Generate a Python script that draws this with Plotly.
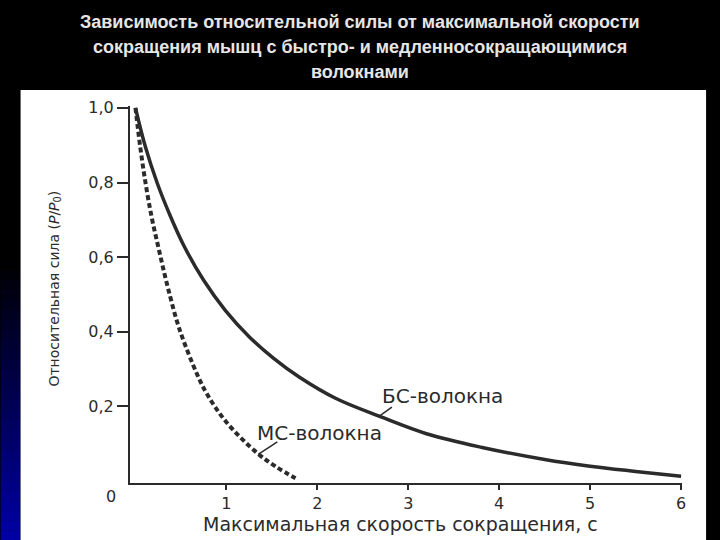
import plotly.graph_objects as go

# ---- data ----
fast_x = [0.0, 0.11, 0.24, 0.37, 0.53, 0.75, 0.99, 1.25, 1.52, 1.8, 2.2, 2.7, 3.2, 3.8, 4.5, 5.0, 5.5, 6.0]
fast_y = [1.0, 0.895, 0.798, 0.718, 0.632, 0.538, 0.457, 0.387, 0.329, 0.279, 0.222, 0.172, 0.127, 0.091, 0.058, 0.040, 0.026, 0.013]

slow_x = [0.0, 0.05, 0.11, 0.18, 0.26, 0.35, 0.48, 0.68, 0.79, 1.0, 1.34, 1.55, 1.76]
slow_y = [1.0, 0.90, 0.80, 0.705, 0.618, 0.525, 0.41, 0.285, 0.232, 0.158, 0.075, 0.038, 0.008]

x_ticks = [1, 2, 3, 4, 5, 6]
x_ticklabels = ["1", "2", "3", "4", "5", "6"]
y_ticks = [0.2, 0.4, 0.6, 0.8, 1.0]
y_ticklabels = ["0,2", "0,4", "0,6", "0,8", "1,0"]

title_lines = ["Зависимость относительной силы от максимальной скорости",
               "сокращения мышц с быстро- и медленносокращающимися",
               "волокнами"]
fast_name = "БС-волокна"
slow_name = "МС-волокна"

# ---- layout geometry (pixels) ----
W, H = 720, 540
L, R, T, B = 129.5, 681.9, 106.1, 482.9


def xp(px):
    return (px - L) / (R - L)


def yp(py):
    return (B - py) / (B - T)


INK = "#2b2b2b"
FONT = "DejaVu Sans"

fig = go.Figure()
fig.add_trace(go.Scatter(x=fast_x, y=fast_y, mode="lines", name=fast_name,
                         line=dict(color=INK, width=3.5, shape="spline", smoothing=1.0)))
fig.add_trace(go.Scatter(x=slow_x, y=slow_y, mode="lines", name=slow_name,
                         line=dict(color=INK, width=4, dash="5px,3px", shape="spline", smoothing=1.0)))

shapes = []
# left blue gradient strip
n = 28
y0, y1 = 260, 540
for i in range(n):
    a = y0 + (y1 - y0) * i / n
    b = y0 + (y1 - y0) * (i + 1) / n
    f = (i + 0.5) / n
    col = "rgb(0,0,%d)" % int(165 * f)
    shapes.append(dict(type="rect", xref="paper", yref="paper", layer="below",
                       x0=xp(0), x1=xp(20), y0=yp(b), y1=yp(a),
                       fillcolor=col, line=dict(width=0)))
# white panel
shapes.append(dict(type="rect", xref="paper", yref="paper", layer="below",
                   x0=xp(20), x1=xp(706), y0=yp(540), y1=yp(90),
                   fillcolor="white", line=dict(width=0)))
# leader lines
shapes.append(dict(type="line", xref="x", yref="y", x0=2.67, y0=0.172, x1=2.82, y1=0.198,
                   line=dict(color=INK, width=1.5)))
shapes.append(dict(type="line", xref="x", yref="y", x0=1.35, y0=0.072, x1=1.56, y1=0.105,
                   line=dict(color=INK, width=1.5)))

annotations = [
    dict(text=fast_name, x=3.38, y=0.228, xref="x", yref="y",
         font=dict(family=FONT, size=20, color=INK)),
    dict(text=slow_name, x=2.02, y=0.129, xref="x", yref="y",
         font=dict(family=FONT, size=20, color=INK)),
    dict(text="0", x=xp(110), y=yp(496), xref="paper", yref="paper",
         font=dict(family=FONT, size=16, color=INK)),
    dict(text="Относительная сила (<i>P</i>/<i>P</i><sub>0</sub>)", x=xp(54), y=yp(289),
         xref="paper", yref="paper", textangle=-90,
         font=dict(family=FONT, size=14, color=INK)),
    dict(text="Максимальная скорость сокращения, с", x=xp(400), y=yp(524),
         xref="paper", yref="paper",
         font=dict(family=FONT, size=19, color=INK)),
]
for txt, py in zip(title_lines, [22, 47, 72]):
    annotations.append(dict(text=txt, x=xp(360), y=yp(py), xref="paper", yref="paper",
                            font=dict(family="Liberation Sans", size=18, color="#e6e6e6",
                                      weight="bold")))
for a in annotations:
    a.update(showarrow=False, xanchor="center", yanchor="middle")

fig.update_layout(
    width=W, height=H,
    paper_bgcolor="black", plot_bgcolor="white",
    margin=dict(l=L, r=W - R, t=T, b=H - B, pad=0, autoexpand=False),
    showlegend=False,
    shapes=shapes,
    annotations=annotations,
)

fig.update_xaxes(range=[-0.06, 6.01], showgrid=False, zeroline=False,
                 showline=True, linecolor=INK, linewidth=2,
                 ticks="outside", ticklen=5, tickwidth=2, tickcolor=INK,
                 tickvals=x_ticks, ticktext=x_ticklabels,
                 tickfont=dict(family=FONT, size=16, color=INK))
fig.update_yaxes(range=[-0.005, 1.005], showgrid=False, zeroline=False,
                 showline=True, linecolor=INK, linewidth=2,
                 ticks="outside", ticklen=11, tickwidth=2, tickcolor=INK,
                 tickvals=y_ticks, ticktext=y_ticklabels,
                 tickfont=dict(family=FONT, size=16, color=INK))

fig.write_html("out.html", config={"displayModeBar": False},
               post_script="document.body.style.margin='0';"
                           "document.body.style.background='black';")
